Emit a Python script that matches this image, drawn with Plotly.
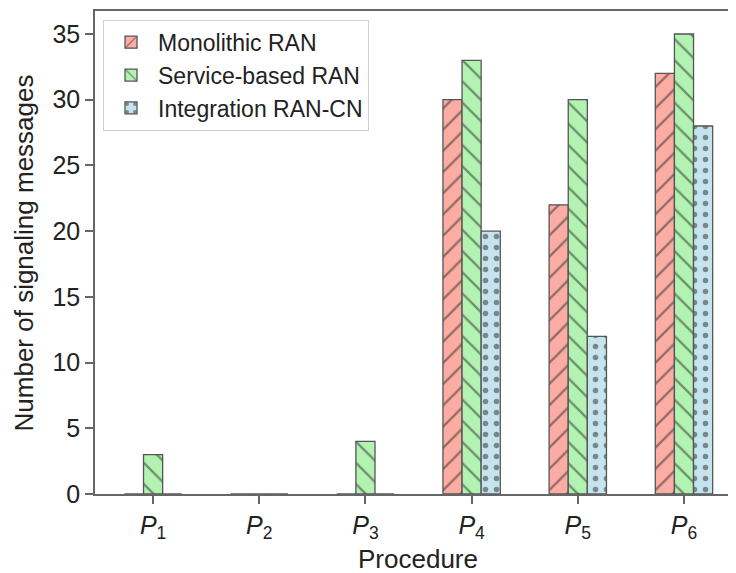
import plotly.graph_objects as go

categories = ["P1", "P2", "P3", "P4", "P5", "P6"]
tick_labels = ["<i>P</i><sub>1</sub>", "<i>P</i><sub>2</sub>", "<i>P</i><sub>3</sub>",
               "<i>P</i><sub>4</sub>", "<i>P</i><sub>5</sub>", "<i>P</i><sub>6</sub>"]
series_names = ["Monolithic RAN", "Service-based RAN", "Integration RAN-CN"]
monolithic = [0, 0, 0, 30, 22, 32]
service_based = [3, 0, 4, 33, 30, 35]
integration = [0, 0, 0, 20, 12, 28]
x_title = "Procedure"
y_title = "Number of signaling messages"

fills = ["rgb(251,172,163)", "rgb(178,243,177)", "rgb(198,228,238)"]
shapes = ["/", "\\", "."]
sizes = [15, 15, 11]
solid = [0.15, 0.15, 0.2]

FONT = "Liberation Sans, Arial, Helvetica, sans-serif"
fig = go.Figure()
for name, vals, col, shp, sz, so in zip(series_names, [monolithic, service_based, integration],
                                        fills, shapes, sizes, solid):
    fig.add_trace(go.Bar(
        x=categories, y=vals, name=name,
        marker=dict(color=col, line=dict(color="#555555", width=1.3),
                    pattern=dict(shape=shp, fillmode="overlay", fgcolor="#2a2a2a",
                                 bgcolor=col, size=sz, solidity=so)),
    ))

# the page body adds an 8px offset, so the figure is 8px smaller than the window
fig.update_layout(
    width=728, height=565,
    margin=dict(l=87, r=0, t=3, b=79, autoexpand=False),
    barmode="group", bargap=0.46, bargroupgap=0,
    plot_bgcolor="white", paper_bgcolor="white",
    font=dict(family=FONT, size=25, color="#222222"),
    showlegend=True,
    legend=dict(x=0.0125, y=0.982, xanchor="left", yanchor="top",
                bgcolor="white", bordercolor="#d0d0d0", borderwidth=1,
                font=dict(size=23, color="#222222"), itemwidth=44,
                tracegroupgap=0),
    xaxis=dict(
        type="category", categoryorder="array", categoryarray=categories,
        tickvals=categories, ticktext=tick_labels,
        range=[-0.547, 5.49], automargin=False,
        showline=True, linecolor="#666666", linewidth=1.5, mirror=True,
        ticks="outside", ticklen=8, tickcolor="#666666", tickwidth=1.5,
        showgrid=False, zeroline=False,
        tickfont=dict(size=25),
    ),
    yaxis=dict(
        range=[0, 36.75], dtick=5, tick0=0, automargin=False,
        showline=True, linecolor="#666666", linewidth=1.5, mirror=False,
        ticks="outside", ticklen=8, tickcolor="#666666", tickwidth=1.5,
        showgrid=False, zeroline=False,
        tickfont=dict(size=25),
    ),
    annotations=[
        dict(text=x_title, xref="paper", yref="paper", x=0.504, y=-0.1346,
             xanchor="center", yanchor="middle", showarrow=False,
             font=dict(size=26, color="#222222")),
        dict(text=y_title, xref="paper", yref="paper", x=-0.1108, y=0.5,
             xanchor="center", yanchor="middle", showarrow=False, textangle=-90,
             font=dict(size=26, color="#222222")),
    ],
)

fig.write_html("out.html")
